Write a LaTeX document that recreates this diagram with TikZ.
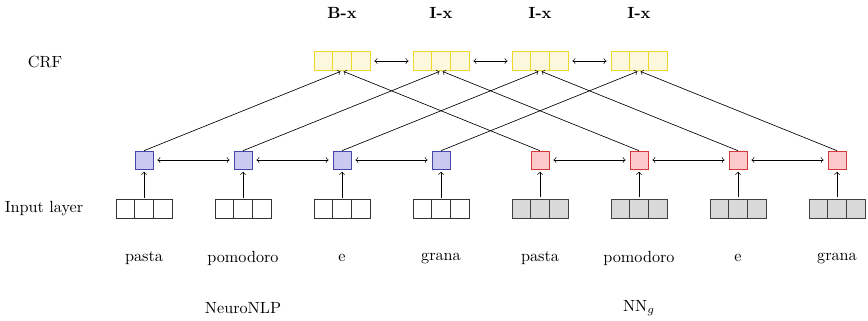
\documentclass[tikz,border=0pt]{standalone}
\usepackage{tikz}
\usetikzlibrary{positioning, calc, arrows}
\definecolor{crfline}{RGB}{240,215,40}
\definecolor{crffill}{RGB}{252,248,222}
\definecolor{bluefill}{RGB}{202,202,240}
\definecolor{blueline}{RGB}{70,70,170}
\definecolor{redfill}{RGB}{252,202,202}
\definecolor{redline}{RGB}{215,55,55}
\tikzset{
	cellbox/.style={draw=#1, minimum width=1.215cm, minimum height=0.41cm, inner sep=0pt,
		path picture={
			\foreach \f in {0.3333,0.6667}
				\draw[#1] ($(path picture bounding box.south west)!\f!(path picture bounding box.south east)$)
					-- ($(path picture bounding box.north west)!\f!(path picture bounding box.north east)$);
		}}
}
\tikzset{
	crfbox/.style={cellbox=crfline, fill=crffill, line width=0.5pt},
	wordbox/.style={cellbox=black!80, fill=white, line width=0.5pt},
	embbox/.style={cellbox=black!75, fill=black!15, line width=0.6pt},
	bluesq/.style={draw=blueline, fill=bluefill, minimum size=0.39cm, inner sep=0pt},
	redsq/.style={draw=redline, fill=redfill, minimum size=0.39cm, inner sep=0pt},
	link/.style={->, shorten <=1pt, shorten >=1.5pt},
	biarrow/.style={<->, shorten <=2.5pt, shorten >=2.5pt}
}

\begin{document}
\begin{tikzpicture}[x=0.0217cm, y=-0.0217cm]
	\useasboundingbox (0,0) rectangle (868,320);
	% row labels
	\node (crflabel) at (45,62) {CRF};
	\node (inlabel) at (44,209) {Input layer};
	% CRF layer with tags above
	\foreach \i/\x/\t in {1/342/B-x, 2/441/I-x, 3/540/I-x, 4/639/I-x} {
		\node[crfbox] (crf\i) at (\x,61) {};
		\node[font=\bfseries] (tag\i) at (\x,13) {\t};
	}
	% NeuroNLP side
	\foreach \i/\x in {1/144, 2/243, 3/342, 4/441} {
		\node[wordbox] (in\i) at (\x,209) {};
		\node[bluesq] (hid\i) at (\x,160) {};
	}
	% NN_g side
	\foreach \i/\x in {5/540, 6/639, 7/738, 8/837} {
		\node[embbox] (in\i) at (\x,209) {};
		\node[redsq] (hid\i) at (\x,160) {};
	}
	\foreach \i/\x/\w in {1/144/pasta, 2/243/pomodoro, 3/342/e, 4/441/grana,
			5/540/pasta, 6/639/pomodoro, 7/738/e, 8/837/grana}
		\node (w\i) at (\x,258) {\w};
	\node (neuro) at (243,308) {NeuroNLP};
	\node (nng) at (639,308) {NN$_g$};
	% connections
	\foreach \i in {1,...,8}
		\draw[link] (in\i) -- (hid\i);
	\foreach \i/\j in {1/2, 2/3, 3/4, 5/6, 6/7, 7/8}
		\draw[biarrow] (hid\i) -- (hid\j);
	\foreach \i/\j in {1/2, 2/3, 3/4}
		\draw[biarrow] (crf\i) -- (crf\j);
	\foreach \c/\b/\r in {1/1/5, 2/2/6, 3/3/7, 4/4/8} {
		\draw[->, shorten >=1pt] (hid\b.north) -- (crf\c.south);
		\draw[->, shorten >=1pt] (hid\r.north) -- (crf\c.south);
	}
\end{tikzpicture}
\end{document}
